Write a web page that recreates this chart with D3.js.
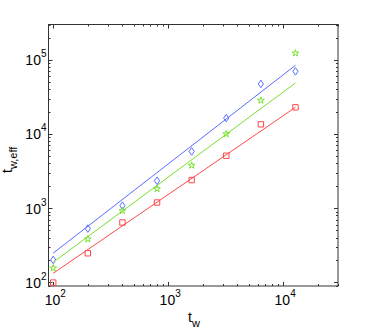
<!DOCTYPE html>
<html><head><meta charset="utf-8">
<script src="https://cdn.jsdelivr.net/npm/d3@7/dist/d3.min.js"></script>
<style>
body{margin:0;background:#fff}
svg{display:block}
text{font-family:"Liberation Sans",Arial,Helvetica,sans-serif;fill:#000}
</style>
</head><body>
<script>
// ---- data ----
const tw = [100, 200, 400, 800, 1600, 3200, 6400, 12800];
const blueVals  = [200, 530, 1080, 2340, 5820, 16400, 47400, 70000];
const greenVals = [155, 382, 920, 1820, 3770, 10000, 28400, 123000];
const redVals   = [99, 246, 640, 1190, 2390, 5090, 13500, 22900];
const fitX      = [100, 12800];
const blueFit   = [247, 84500];
const greenFit  = [186, 48800];
const redFit    = [132, 22900];
const xTicks = [100, 1000, 10000];
const xTickExp = ["2", "3", "4"];
const yTicks = [100, 1000, 10000, 100000];
const yTickExp = ["2", "3", "4", "5"];

const W = 374, H = 332;
const L = 48.5, R = 338, T = 24.5, B = 286;

const svg = d3.select("body").append("svg").attr("width", W).attr("height", H);

const x = d3.scaleLog().domain([91, 30000]).range([L, R]);
const y = d3.scaleLog().domain([89, 300000]).range([B, T]);

// minor ticks
function minors(domain) {
  const out = [];
  for (let e = 1; e <= 6; e++) for (let m = 1; m <= 9; m++) {
    const v = m * Math.pow(10, e);
    if (v >= domain[0] && v <= domain[1]) out.push(v);
  }
  return out;
}
const xMin = minors(x.domain()), yMin = minors(y.domain());
const tickG = svg.append("g").attr("stroke", "#333").attr("stroke-width", 1);
xMin.forEach(v => {
  const isMaj = xTicks.includes(v);
  const len = isMaj ? 4 : 2;
  const px = Math.round(x(v)) + 0.5;
  tickG.append("line").attr("x1", px).attr("x2", px).attr("y1", B).attr("y2", B - len);
  tickG.append("line").attr("x1", px).attr("x2", px).attr("y1", T).attr("y2", T + len);
});
yMin.forEach(v => {
  const isMaj = yTicks.includes(v);
  const len = isMaj ? 4 : 2;
  const py = Math.round(y(v)) + 0.5;
  tickG.append("line").attr("x1", L).attr("x2", L + len).attr("y1", py).attr("y2", py);
  tickG.append("line").attr("x1", R).attr("x2", R - len).attr("y1", py).attr("y2", py);
});

// frame
svg.append("rect").attr("x", L).attr("y", T).attr("width", R - L).attr("height", B - T)
  .attr("fill", "none").attr("stroke", "#333").attr("stroke-width", 1);

// tick labels
xTicks.forEach((v, i) => {
  const t = svg.append("text").attr("x", x(v) + 2).attr("y", 305).attr("text-anchor", "middle")
    .attr("font-size", 14);
  t.append("tspan").text("10");
  t.append("tspan").attr("font-size", 10).attr("dy", -8).text(xTickExp[i]);
});
yTicks.forEach((v, i) => {
  const t = svg.append("text").attr("x", 46.5).attr("y", y(v) + 5.5).attr("text-anchor", "end")
    .attr("font-size", 14);
  t.append("tspan").text("10");
  t.append("tspan").attr("font-size", 10).attr("dy", -8).text(yTickExp[i]);
});

// axis labels
const xl = svg.append("text").attr("x", 188).attr("y", 322).attr("font-size", 14);
xl.append("tspan").text("t");
xl.append("tspan").attr("font-size", 11).attr("dy", 5).text("w");

const yl = svg.append("text").attr("transform", "translate(12,173) rotate(-90)").attr("font-size", 14);
yl.append("tspan").text("t");
yl.append("tspan").attr("font-size", 11).attr("dy", 5).text("w,eff");

// series
const series = [
  {vals: blueVals,  fit: blueFit,  color: "#5a6cff", shape: "diamond"},
  {vals: greenVals, fit: greenFit, color: "#76e02a", shape: "star"},
  {vals: redVals,   fit: redFit,   color: "#ff4848", shape: "square"}
];
const line = d3.line().x(d => x(d[0])).y(d => y(d[1]));
const starPath = d3.symbol().type(d3.symbolStar).size(14)();
const shapes = {
  diamond: "M0,-3.8L2.6,0L0,3.8L-2.6,0Z",
  square: "M-2.7,-2.7H2.7V2.7H-2.7Z",
  star: starPath
};
series.forEach(s => {
  svg.append("path").datum(fitX.map((v, i) => [v, s.fit[i]]))
    .attr("d", line).attr("fill", "none").attr("stroke", s.color).attr("stroke-width", 1);
  svg.append("g").selectAll("path").data(tw.map((v, i) => [v, s.vals[i]])).join("path")
    .attr("transform", d => `translate(${x(d[0])},${y(d[1])})`)
    .attr("d", shapes[s.shape]).attr("fill", "none").attr("stroke", s.color).attr("stroke-width", 1);
});
</script>
</body></html>
